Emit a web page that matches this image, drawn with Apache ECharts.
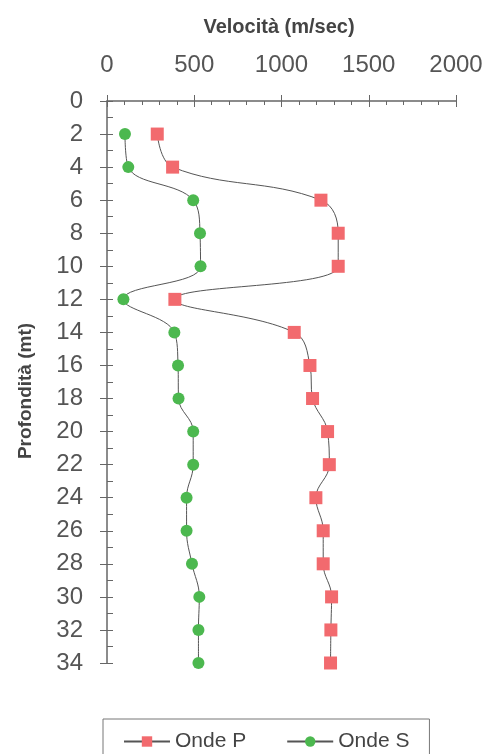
<!DOCTYPE html>
<html>
<head>
<meta charset="utf-8">
<script src="https://cdn.jsdelivr.net/npm/echarts@6/dist/echarts.min.js"></script>
<style>html,body{margin:0;padding:0;background:#fff;}#c{width:490px;height:754px;}</style>
</head>
<body>
<div id="c"></div>
<script>
const depths = [2,4,6,8,10,12,14,16,18,20,22,24,26,28,30,32,34];
const ondeP = [288,376,1226,1325,1325,389,1073,1163,1178,1264,1274,1197,1239,1239,1287,1283,1281];
const ondeS = [103,122,494,533,536,94,386,407,410,494,494,456,456,487,529,524,524];
const seriesNames = ['Onde P','Onde S'];

const chart = echarts.init(document.getElementById('c'));
const font = 'Liberation Sans, Arial, sans-serif';
const axisCol = '#666';
chart.setOption({
  backgroundColor: '#fff',
  animation: false,
  grid: {left: 107, right: 34, top: 101, bottom: 91},
  title: {
    text: 'Velocità (m/sec)', left: 274, top: 12, textAlign: 'center',
    textStyle: {fontFamily: font, fontSize: 20, fontWeight: 'bold', color: '#444'}
  },
  xAxis: [{
    type: 'value', position: 'top', min: 0, max: 2000, interval: 500,
    axisLine: {show: true, lineStyle: {color: axisCol, width: 1.5}},
    axisTick: {show: true, length: 6, lineStyle: {color: axisCol}},
    axisLabel: {fontFamily: font, fontSize: 24, color: '#555', margin: 24, formatter: v => String(v)},
    splitLine: {show: false}
  },{
    type: 'value', position: 'top', min: 0, max: 2000, interval: 500,
    axisLine: {show: false},
    axisTick: {show: true, inside: true, length: 6, lineStyle: {color: axisCol}},
    minorTick: {show: true, splitNumber: 5, length: 4, lineStyle: {color: axisCol}},
    axisLabel: {show: false},
    splitLine: {show: false}
  }],
  yAxis: [{
    type: 'value', inverse: true, min: 0, max: 34, interval: 2,
    name: 'Profondità (mt)', nameLocation: 'middle', nameGap: 72, nameRotate: 90,
    nameTextStyle: {fontFamily: font, fontSize: 19, fontWeight: 'bold', color: '#444', padding: [0, 18, 0, 0]},
    axisLine: {show: true, lineStyle: {color: axisCol, width: 1.5}},
    axisTick: {show: true, length: 7, lineStyle: {color: axisCol}},
    axisLabel: {fontFamily: font, fontSize: 24, color: '#555', margin: 24},
    splitLine: {show: false}
  },{
    type: 'value', inverse: true, min: 0, max: 34, interval: 2, position: 'left',
    axisLine: {show: false},
    axisTick: {show: true, inside: true, length: 6, lineStyle: {color: axisCol}},
    minorTick: {show: true, splitNumber: 2, length: 6, lineStyle: {color: axisCol}},
    axisLabel: {show: false},
    splitLine: {show: false}
  }],
  legend: {
    left: 103, top: 719,
    width: 340,
    padding: [12, 20, 20, 20],
    borderColor: '#777', borderWidth: 1,
    itemWidth: 46, itemHeight: 13, itemGap: 40,
    textStyle: {fontFamily: font, fontSize: 21, color: '#444'},
    data: seriesNames
  },
  series: [{
    name: seriesNames[0], type: 'line', smooth: 0.4,
    data: depths.map((d, i) => [ondeP[i], d]),
    symbol: 'rect', symbolSize: 13,
    itemStyle: {color: '#f26a6e'},
    lineStyle: {color: '#555', width: 1}
  },{
    name: seriesNames[1], type: 'line', smooth: 0.4,
    data: depths.map((d, i) => [ondeS[i], d]),
    symbol: 'circle', symbolSize: 12,
    itemStyle: {color: '#4cb84f'},
    lineStyle: {color: '#555', width: 1}
  }]
});
</script>
</body>
</html>
